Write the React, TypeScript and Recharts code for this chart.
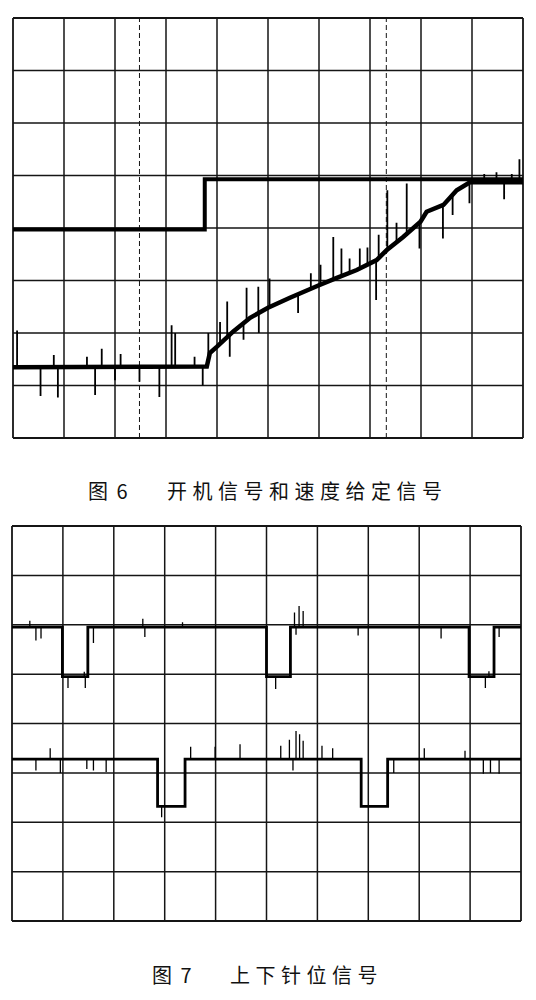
import { LineChart, Line, XAxis, YAxis, ReferenceLine } from "recharts";

type Pt = [number, number];
type Row = { x: number; v: number | null };

// oscilloscope graticule: 10 x 8 divisions
const gridCols = [0, 1, 2, 3, 4, 5, 6, 7, 8, 9, 10];
const gridRows = [0, 1, 2, 3, 4, 5, 6, 7, 8];

// fig 6: cursor positions (div)
const cursorXs = [2.48, 7.32];

// fig 6: start signal (step)
const startSignal: Pt[] = [
  [0, 3.97],
  [3.76, 3.97],
  [3.76, 4.93],
  [10, 4.93],
];

// fig 6: speed reference ramp
const speedRef: Pt[] = [
  [0, 1.35], [3.8, 1.36], [3.86, 1.62], [4.0, 1.74], [4.32, 2.03],
  [4.65, 2.29], [5.0, 2.48], [5.43, 2.67], [6.0, 2.91], [6.35, 3.05],
  [6.74, 3.2], [7.13, 3.39], [7.33, 3.58], [7.65, 3.83], [7.99, 4.12],
  [8.11, 4.31], [8.44, 4.44], [8.7, 4.72], [8.96, 4.87], [10, 4.87],
];

const speedSpikes: Pt[] = [
  [0.08, 2.05], [0.54, 0.8], [0.8, 1.58], [0.88, 0.77], [1.45, 1.55],
  [1.61, 0.82], [1.74, 1.7], [2.0, 1.1], [2.11, 1.6], [2.48, 1.07],
  [2.87, 0.78], [3.11, 2.15], [3.18, 2.0], [3.56, 1.55], [3.72, 1.0],
  [3.83, 2.0], [4.06, 2.21], [4.2, 2.6], [4.25, 1.55], [4.52, 1.87],
  [4.58, 2.86], [4.81, 2.88], [4.82, 2.0], [5.03, 3.04], [5.59, 2.38],
  [5.84, 3.14], [6.03, 3.3], [6.28, 3.83], [6.44, 3.61], [6.6, 3.42],
  [6.8, 3.61], [6.95, 3.63], [7.12, 2.63], [7.17, 3.87], [7.34, 4.72],
  [7.52, 4.1], [7.72, 4.85], [7.97, 3.61], [8.43, 3.8], [8.62, 4.25],
  [8.95, 4.47], [9.24, 5.03], [9.48, 5.06], [9.63, 4.55], [9.78, 5.03],
  [9.93, 5.31],
];

// fig 7: upper needle position pulses
const needleUp: Pt[] = [
  [0, 5.95], [0.99, 5.95], [0.99, 4.95], [1.49, 4.95], [1.49, 5.95],
  [5.0, 5.95], [5.0, 4.95], [5.47, 4.95], [5.47, 5.95],
  [8.98, 5.95], [8.98, 4.95], [9.47, 4.95], [9.47, 5.95], [10, 5.95],
];

const needleUpSpikes: Pt[] = [
  [0.35, 6.08], [0.47, 5.68], [0.57, 5.72], [1.1, 4.72], [1.42, 5.05],
  [1.44, 4.72], [1.6, 5.63], [2.57, 6.12], [2.61, 5.75], [3.35, 6.05],
  [5.18, 4.7], [5.55, 6.25], [5.58, 5.8], [5.64, 6.38], [5.72, 6.28],
  [6.8, 5.78], [8.43, 5.72], [9.3, 4.72], [9.37, 5.06], [9.57, 5.75],
];

// fig 7: lower needle position pulses
const needleDown: Pt[] = [
  [0, 3.28], [2.86, 3.28], [2.86, 2.32], [3.4, 2.32], [3.4, 3.28],
  [6.86, 3.28], [6.86, 2.32], [7.38, 2.32], [7.38, 3.28], [10, 3.28],
];

const needleDownSpikes: Pt[] = [
  [0.47, 3.05], [0.75, 3.5], [0.95, 3.0], [1.47, 3.08], [1.6, 3.05],
  [1.85, 3.02], [2.94, 2.1], [3.51, 3.53], [3.99, 3.53], [4.48, 3.58],
  [5.28, 3.55], [5.45, 3.67], [5.52, 3.05], [5.58, 3.85], [5.65, 3.78],
  [5.72, 3.65], [6.09, 3.55], [6.3, 3.5], [7.5, 3.0], [8.1, 3.5],
  [8.9, 3.45], [9.26, 2.98], [9.4, 3.0], [9.57, 2.98],
];

// trace level at x (first segment that spans x)
function levelAt(base: Pt[], x: number) {
  for (let i = 0; i < base.length - 1; i++) {
    const [x0, v0] = base[i];
    const [x1, v1] = base[i + 1];
    if (x >= x0 && x <= x1 && x1 > x0) return v0 + ((v1 - v0) * (x - x0)) / (x1 - x0);
  }
  return base[base.length - 1][1];
}

// glitches: short thin strokes leaving the trace, broken apart by nulls
function spikeRows(base: Pt[], spikes: Pt[]): Row[] {
  const out: Row[] = [];
  [...spikes]
    .sort((a, b) => a[0] - b[0])
    .forEach(([sx, sv]) => {
      out.push({ x: sx, v: levelAt(base, sx) }, { x: sx, v: sv }, { x: sx, v: null });
    });
  return out;
}

const toRows = (pts: Pt[]): Row[] => pts.map(([x, v]) => ({ x, v }));

const INK = "#151515";

function Scope({
  width,
  height,
  margin,
  traces,
  cursors = [],
}: {
  width: number;
  height: number;
  margin: { top: number; right: number; bottom: number; left: number };
  traces: { data: Row[]; w: number }[];
  cursors?: number[];
}) {
  return (
    <LineChart width={width} height={height} margin={margin}>
      <XAxis type="number" dataKey="x" domain={[0, 10]} hide />
      <YAxis type="number" dataKey="v" domain={[0, 8]} hide />
      {gridCols.map((c) => (
        <ReferenceLine key={"c" + c} x={c} stroke={INK} strokeWidth={c === 0 || c === 10 ? 1.8 : 1.5} />
      ))}
      {gridRows.map((r) => (
        <ReferenceLine key={"r" + r} y={r} stroke={INK} strokeWidth={r === 0 || r === 8 ? 1.8 : 1.5} />
      ))}
      {cursors.map((c) => (
        <ReferenceLine key={"k" + c} x={c} stroke={INK} strokeWidth={1} strokeDasharray="5 3" />
      ))}
      {traces.map((t, i) => (
        <Line
          key={i}
          data={t.data}
          dataKey="v"
          type="linear"
          stroke="#000"
          strokeWidth={t.w}
          strokeLinejoin="miter"
          dot={false}
          activeDot={false}
          connectNulls={false}
          isAnimationActive={false}
        />
      ))}
    </LineChart>
  );
}

const captionFont = '"Noto Sans CJK SC", "Noto Sans", sans-serif';

function Caption({ top, numLeft, num, textLeft, text }: { top: number; numLeft: number; num: string; textLeft: number; text: string }) {
  const base = {
    position: "absolute" as const,
    top,
    fontFamily: captionFont,
    fontSize: 20,
    fontWeight: 400,
    lineHeight: "24px",
    color: "#111",
    whiteSpace: "pre" as const,
  };
  return (
    <>
      <div style={{ ...base, left: numLeft, letterSpacing: 2 }}>{num}</div>
      <div style={{ ...base, left: textLeft, letterSpacing: 5.5 }}>{text}</div>
    </>
  );
}

export default function App() {
  return (
    <div style={{ position: "absolute", left: 0, top: 0, width: 536, height: 1000, background: "#fff" }}>
      <div style={{ position: "absolute", left: 0, top: 0 }}>
        <Scope
          width={536}
          height={450}
          margin={{ top: 18, right: 13, bottom: 12, left: 13 }}
          cursors={cursorXs}
          traces={[
            { data: toRows(startSignal), w: 4 },
            { data: toRows(speedRef), w: 4.5 },
            { data: spikeRows(speedRef, speedSpikes), w: 1.8 },
          ]}
        />
      </div>
      <Caption top={479} numLeft={88} num="图 6" textLeft={167} text="开机信号和速度给定信号" />
      <div style={{ position: "absolute", left: 0, top: 516 }}>
        <Scope
          width={536}
          height={415}
          margin={{ top: 10, right: 15, bottom: 10, left: 12 }}
          traces={[
            { data: toRows(needleUp), w: 2.8 },
            { data: spikeRows(needleUp, needleUpSpikes), w: 1.3 },
            { data: toRows(needleDown), w: 2.8 },
            { data: spikeRows(needleDown, needleDownSpikes), w: 1.3 },
          ]}
        />
      </div>
      <Caption top={963} numLeft={152} num="图 7" textLeft={230} text="上下针位信号" />
    </div>
  );
}
